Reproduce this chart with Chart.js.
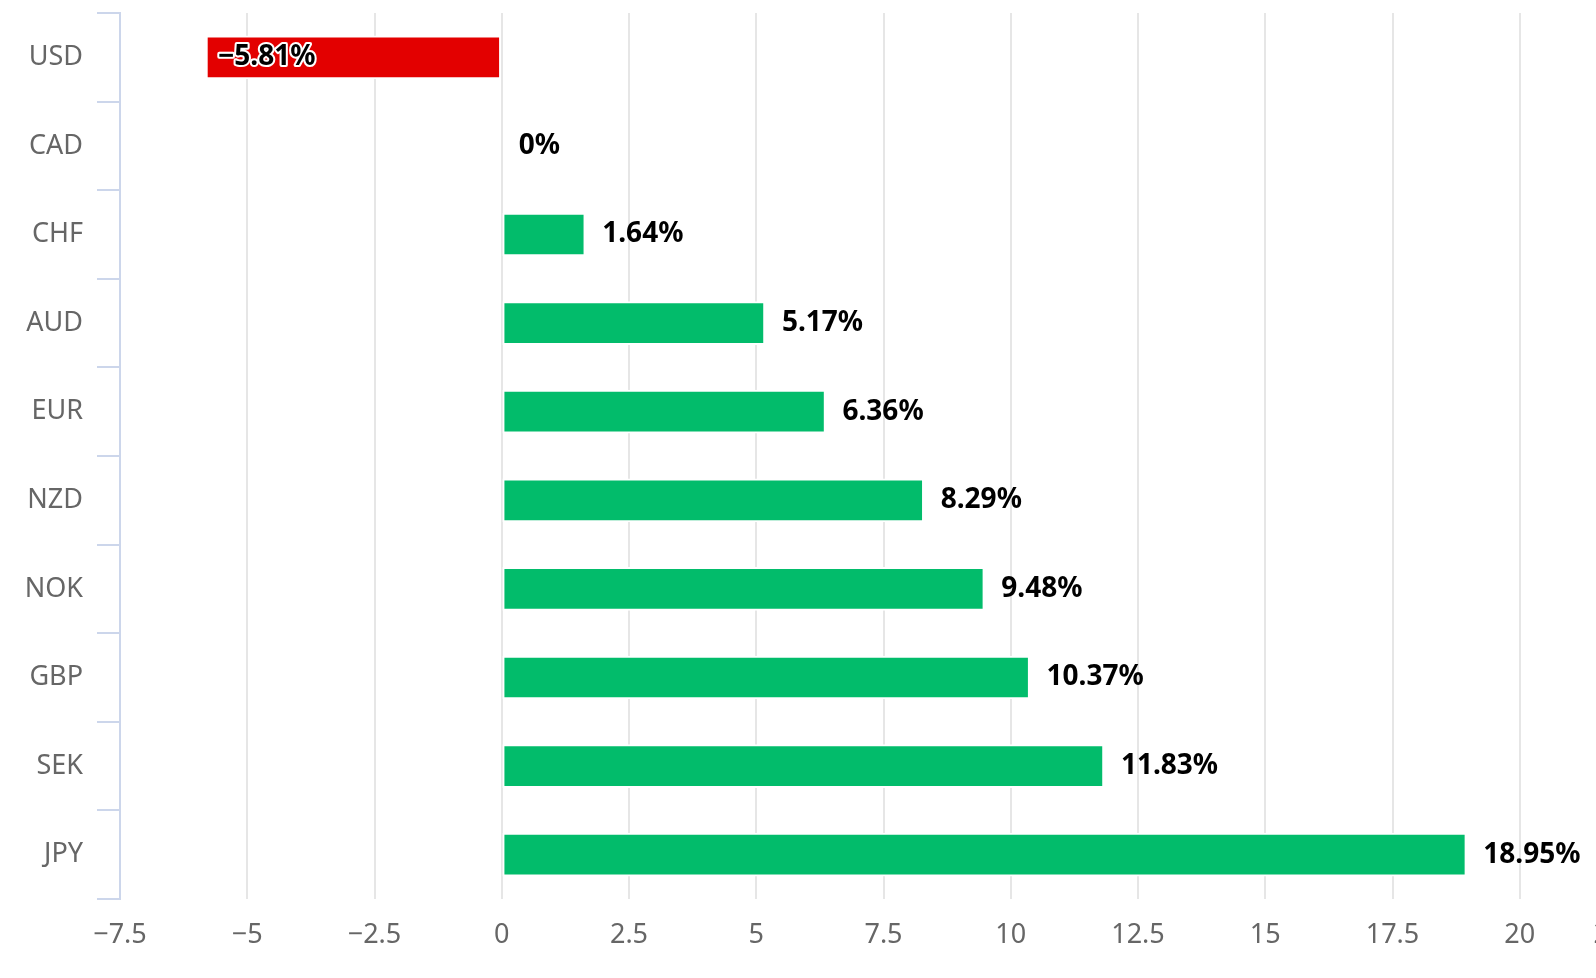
<!DOCTYPE html>
<html>
<head>
<meta charset="utf-8">
<script src="https://cdn.jsdelivr.net/npm/chart.js@4/dist/chart.umd.min.js"></script>
<style>
  html, body { margin:0; padding:0; background:#fff; overflow:hidden; }
  #wrap { position:absolute; left:0; top:0; width:1647px; height:978px; }
</style>
</head>
<body>
<div id="wrap"><canvas id="fxChart"></canvas></div>
<script>
// currency performance bars
const currencies = ['USD','CAD','CHF','AUD','EUR','NZD','NOK','GBP','SEK','JPY'];
const changes = [-5.81, 0, 1.64, 5.17, 6.36, 8.29, 9.48, 10.37, 11.83, 18.95];
const axisMin = -7.5, axisMax = 22.5, axisStep = 2.5;

const GREEN = '#02bc6b', RED = '#e30000';
const fmt = v => String(v).replace('-', '\u2212');

// value labels next to / inside each bar
const barLabels = {
  id: 'barLabels',
  afterDatasetsDraw(chart){
    const ctx = chart.ctx;
    const meta = chart.getDatasetMeta(0);
    ctx.save();
    ctx.font = 'bold 28px "Noto Sans", sans-serif';
    ctx.textBaseline = 'middle';
    ctx.textAlign = 'left';
    meta.data.forEach((bar, i) => {
      const v = changes[i];
      const txt = fmt(v) + '%';
      const p = bar.getProps(['x','y','base'], true);
      if (v < 0) {
        const x = Math.min(p.x, p.base) + 12;
        ctx.lineJoin = 'round';
        ctx.lineWidth = 4;
        ctx.strokeStyle = '#fff';
        ctx.strokeText(txt, x, p.y);
        ctx.fillStyle = '#000';
        ctx.fillText(txt, x, p.y);
      } else {
        ctx.fillStyle = '#000';
        ctx.fillText(txt, Math.max(p.x, p.base) + 17, p.y);
      }
    });
    ctx.restore();
  }
};

new Chart(document.getElementById('fxChart').getContext('2d'), {
  type: 'bar',
  data: {
    labels: currencies,
    datasets: [{
      data: changes,
      backgroundColor: changes.map(v => v < 0 ? RED : GREEN),
      borderColor: '#fff',
      borderWidth: 2,
      borderSkipped: false,
      barThickness: 43
    }]
  },
  options: {
    indexAxis: 'y',
    responsive: true,
    maintainAspectRatio: false,
    animation: false,
    layout: { padding: { top: 13, left: 0, right: 0, bottom: 0 } },
    plugins: { legend: { display: false }, tooltip: { enabled: false } },
    scales: {
      x: {
        min: axisMin, max: axisMax,
        grid: { color: '#e6e6e6', lineWidth: 2, drawTicks: false },
        border: { display: false },
        ticks: {
          stepSize: axisStep, autoSkip: false, maxRotation: 0, padding: 20,
          color: '#666', font: { family: '"Noto Sans", sans-serif', size: 27 },
          // last label justified to the plot edge
          callback: v => v === axisMax ? fmt(v) + '\u2007\u2007\u2007\u2008' : fmt(v)
        },
        afterFit: s => { s.height = 79; s.paddingLeft = 0; s.paddingRight = 0; }
      },
      y: {
        grid: { drawOnChartArea: false, color: '#ccd6eb', lineWidth: 2, tickLength: 23, offset: true },
        border: { display: true, color: '#ccd6eb', width: 2 },
        ticks: { padding: 14, color: '#666', font: { family: '"Noto Sans", sans-serif', size: 27 } },
        afterFit: s => { s.width = 120; s.paddingTop = 0; s.paddingBottom = 0; }
      }
    }
  },
  plugins: [barLabels]
});
</script>
</body>
</html>
